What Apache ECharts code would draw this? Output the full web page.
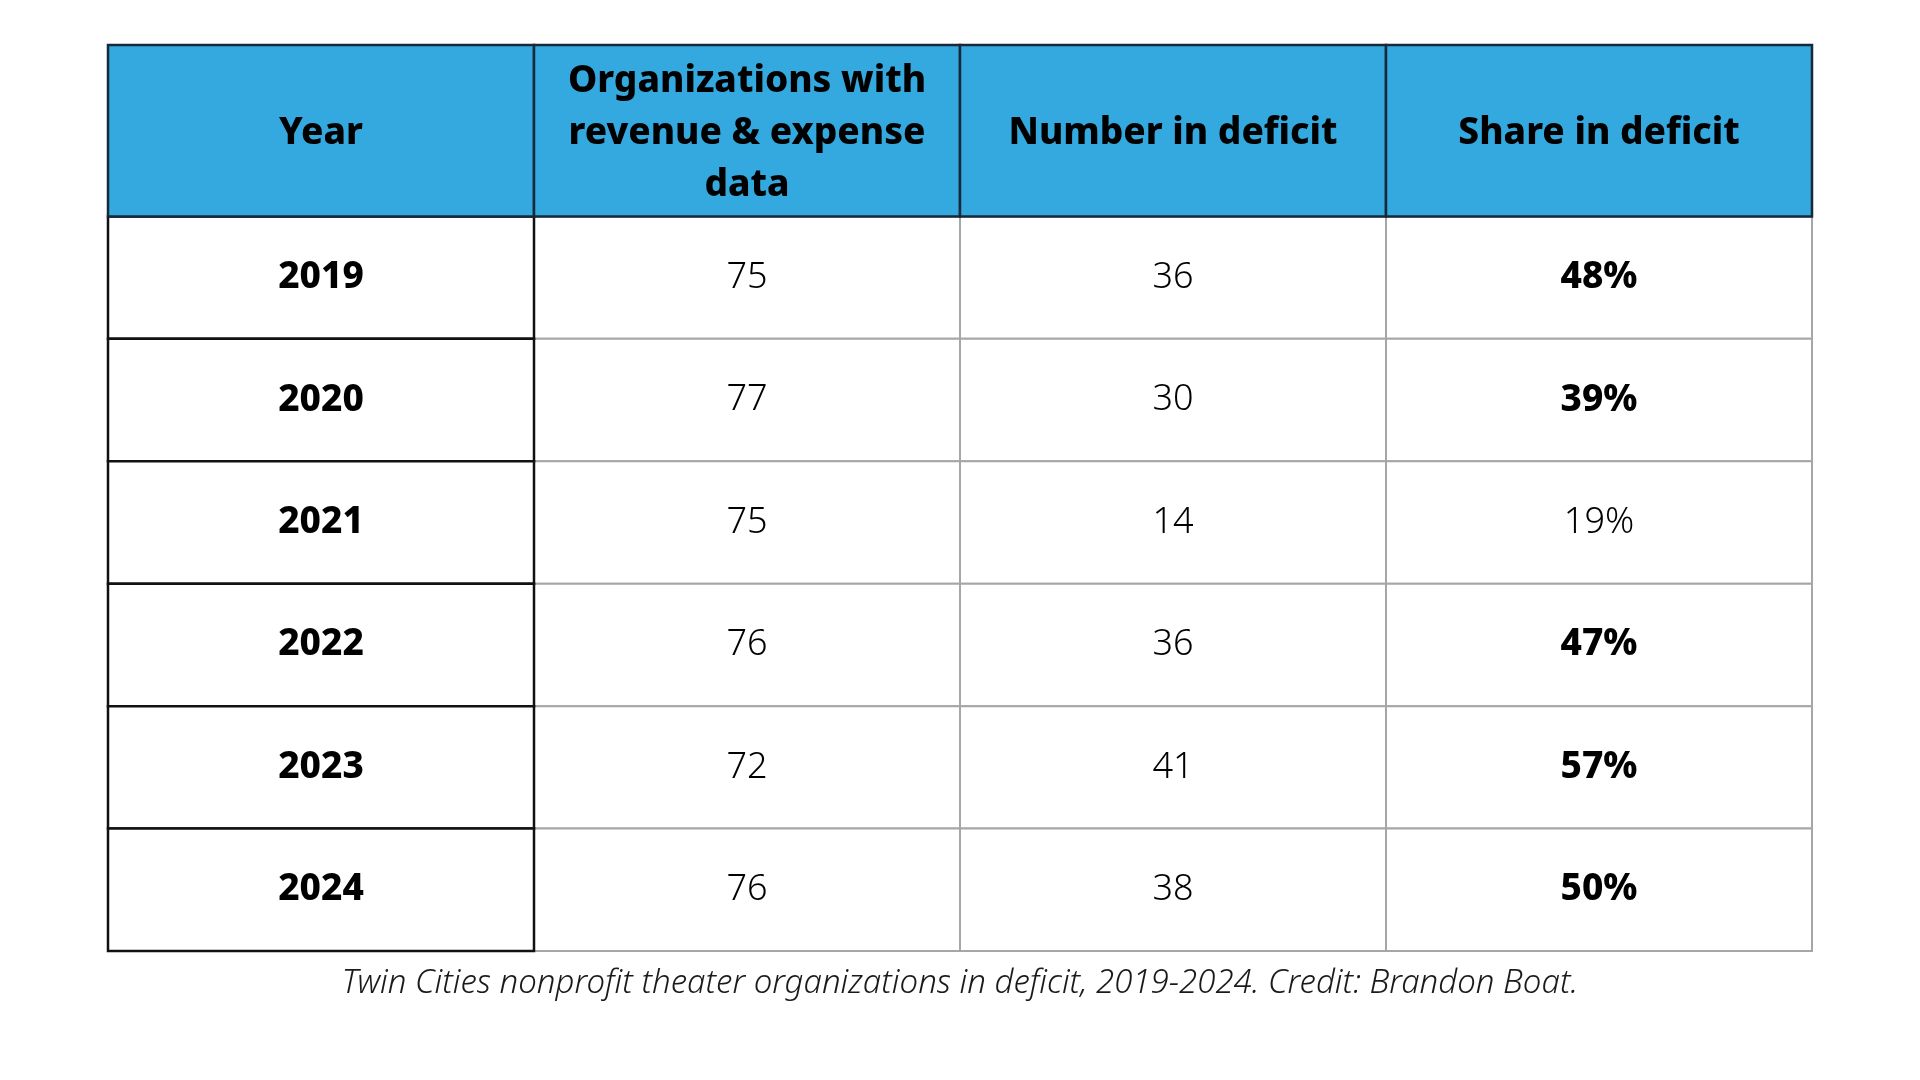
<!DOCTYPE html>
<html>
<head>
<meta charset="utf-8">
<script src="https://cdn.jsdelivr.net/npm/echarts@6/dist/echarts.min.js"></script>
<style>html,body{margin:0;padding:0;background:#fff;}#chart{width:1920px;height:1080px;}</style>
</head>
<body>
<div id="chart"></div>
<script>
// ---- data ----
const headers = ['Year', 'Organizations with\nrevenue & expense\ndata', 'Number in deficit', 'Share in deficit'];
const years = ['2019', '2020', '2021', '2022', '2023', '2024'];
const orgsWithData = [75, 77, 75, 76, 72, 76];
const numberInDeficit = [36, 30, 14, 36, 41, 38];
const shareInDeficit = [48, 39, 19, 47, 57, 50];
const caption = 'Twin Cities nonprofit theater organizations in deficit, 2019-2024. Credit: Brandon Boat.';

// ---- layout (axis units) ----
const HEADER_UNITS = 1.4;
const ROW_UNITS = 1;
const Y_MAX = HEADER_UNITS + ROW_UNITS * years.length;
const FONT = '"Noto Sans", "Open Sans", sans-serif';

function rowSpan(i) { // i = -1 header
  if (i < 0) return [0, HEADER_UNITS];
  const y0 = HEADER_UNITS + i * ROW_UNITS;
  return [y0, y0 + ROW_UNITS];
}

const headerCells = headers.map((h, c) => ({ value: [c].concat(rowSpan(-1)), label: h }));
const yearCells = years.map((y, i) => ({ value: [0].concat(rowSpan(i)), label: y }));
const bodyCells = [];
years.forEach((y, i) => {
  bodyCells.push({ value: [1].concat(rowSpan(i)), label: String(orgsWithData[i]), bold: false });
  bodyCells.push({ value: [2].concat(rowSpan(i)), label: String(numberInDeficit[i]), bold: false });
  bodyCells.push({ value: [3].concat(rowSpan(i)), label: shareInDeficit[i] + '%', bold: shareInDeficit[i] >= 25 });
});

function makeRender(cells, st) {
  return function (params, api) {
    const cell = cells[params.dataIndex];
    const c = api.value(0), y0 = api.value(1), y1 = api.value(2);
    const p0 = api.coord([c, y0]);
    const p1 = api.coord([c + 1, y1]);
    const x = Math.min(p0[0], p1[0]), y = Math.min(p0[1], p1[1]);
    const w = Math.abs(p1[0] - p0[0]), h = Math.abs(p1[1] - p0[1]);
    const bold = st.bold || cell.bold;
    return {
      type: 'group',
      children: [
        { type: 'rect', shape: { x: x, y: y, width: w, height: h },
          style: { fill: st.fill, stroke: st.stroke, lineWidth: st.lineWidth } },
        { type: 'text',
          style: { text: cell.label, x: x + w / 2, y: y + h / 2 + (st.dy || 0), align: 'center', verticalAlign: 'middle',
                   fontFamily: FONT, fontSize: bold ? (st.boldSize || st.fontSize) : st.fontSize, fontWeight: bold ? 800 : 300,
                   lineHeight: st.lineHeight || st.fontSize * 1.3, fill: '#000' } }
      ]
    };
  };
}

const chart = echarts.init(document.getElementById('chart'));
chart.setOption({
  backgroundColor: '#ffffff',
  animation: false,
  title: {
    text: caption, left: 'center', top: 962,
    textStyle: { fontFamily: FONT, fontStyle: 'italic', fontWeight: 300, fontSize: 33, color: '#1a1a1a' }
  },
  grid: { left: 108, right: 108, top: 45, bottom: 129 },
  xAxis: { type: 'value', min: 0, max: headers.length, show: false },
  yAxis: { type: 'value', min: 0, max: Y_MAX, inverse: true, show: false },
  series: [
    { type: 'custom', z: 2, data: bodyCells.map(d => d.value), clip: false,
      renderItem: makeRender(bodyCells, { fill: '#ffffff', stroke: '#a6a6a6', lineWidth: 2, fontSize: 36, boldSize: 37, bold: false }) },
    { type: 'custom', z: 3, data: yearCells.map(d => d.value), clip: false,
      renderItem: makeRender(yearCells, { fill: '#ffffff', stroke: '#111111', lineWidth: 2.5, fontSize: 37, bold: true }) },
    { type: 'custom', z: 4, data: headerCells.map(d => d.value), clip: false,
      renderItem: makeRender(headerCells, { fill: '#34a9e0', stroke: '#17283a', lineWidth: 2.5, fontSize: 37, lineHeight: 52, dy: 3, bold: true }) }
  ]
});
</script>
</body>
</html>
